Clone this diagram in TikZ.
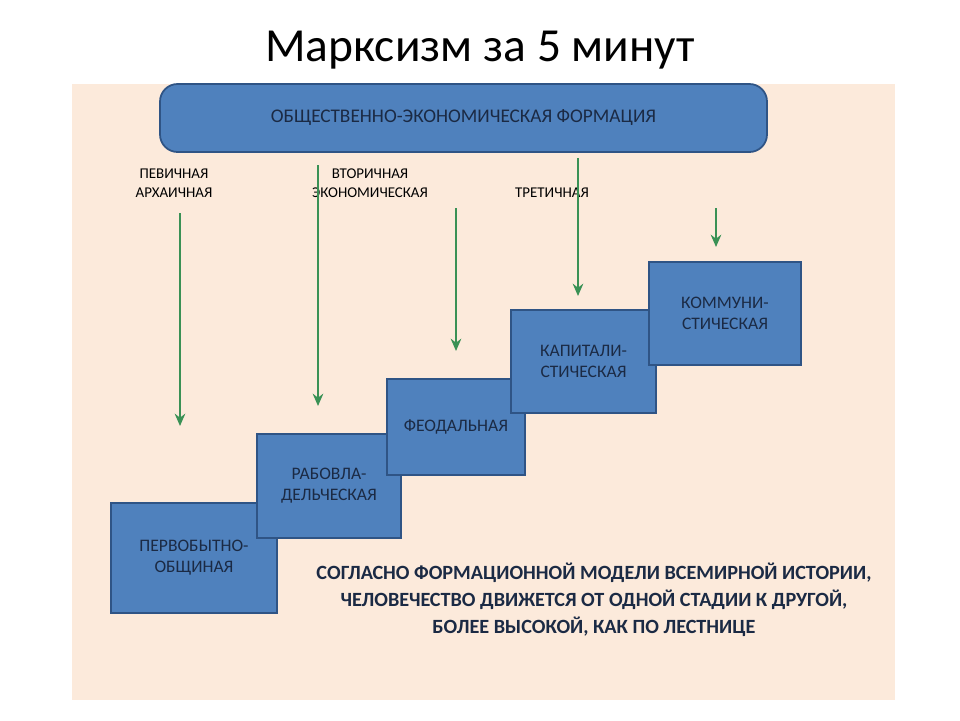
\documentclass[tikz,border=0pt]{standalone}
\usepackage{fontspec}
\setmainfont{Carlito}
\usetikzlibrary{arrows.meta}
\begin{document}
\begin{tikzpicture}[x=0.02cm,y=-0.02cm,
 box/.style={draw=boxb,fill=boxf,line width=1pt,font=\fontsize{10}{12}\selectfont,text=txt,align=center,inner sep=0pt},
 garr/.style={draw=grn,line width=1.6pt,-{Stealth[length=7pt,width=6pt]}},
 lab/.style={font=\fontsize{8.5}{10.5}\selectfont,align=center,text=black}]
\definecolor{bg}{HTML}{FCEADB}
\definecolor{boxf}{HTML}{4F81BD}
\definecolor{boxb}{HTML}{2F5485}
\definecolor{txt}{HTML}{1B2A44}
\definecolor{grn}{HTML}{3A9155}
\useasboundingbox (0,0) rectangle (960,720);
\fill[white] (0,0) rectangle (960,720);
\fill[bg] (72,84) rectangle (895,700);
\node[font=\fontsize{27}{32}\selectfont] (title) at (480,50) {Марксизм за 5 минут};
\node[box,rounded corners=10pt,minimum width=607*0.02cm,minimum height=68*0.02cm,font=\fontsize{11}{13}\selectfont] (top) at (463.5,118) {ОБЩЕСТВЕННО-ЭКОНОМИЧЕСКАЯ ФОРМАЦИЯ};
\node[box,minimum width=166*0.02cm,minimum height=110*0.02cm] (b1) at (194,558) {ПЕРВОБЫТНО-\\ОБЩИНАЯ};
\node[box,minimum width=144*0.02cm,minimum height=104*0.02cm] (b2) at (329,486) {РАБОВЛА-\\ДЕЛЬЧЕСКАЯ};
\node[box,minimum width=138*0.02cm,minimum height=96*0.02cm] (b3) at (456,427) {ФЕОДАЛЬНАЯ};
\node[box,minimum width=145*0.02cm,minimum height=103*0.02cm] (b4) at (583.5,361.5) {КАПИТАЛИ-\\СТИЧЕСКАЯ};
\node[box,minimum width=152*0.02cm,minimum height=103*0.02cm] (b5) at (725,313.5) {КОММУНИ-\\СТИЧЕСКАЯ};
\node[lab] (l1) at (174,183) {ПЕВИЧНАЯ\\АРХАИЧНАЯ};
\node[lab] (l2) at (370,183) {ВТОРИЧНАЯ\\ЭКОНОМИЧЕСКАЯ};
\node[lab] (l3) at (552,193) {ТРЕТИЧНАЯ};
\coordinate (s1) at (180,213); \coordinate (e1) at (180,426);
\coordinate (s2) at (318,165); \coordinate (e2) at (318,406);
\coordinate (s3) at (456,208); \coordinate (e3) at (456,351);
\coordinate (s4) at (578,158); \coordinate (e4) at (578,296);
\coordinate (s5) at (716,208); \coordinate (e5) at (716,247);
\foreach \i in {1,...,5} \draw[garr] (s\i) -- (e\i);
\node[font=\bfseries\fontsize{11.5}{15.5}\selectfont,align=center,text=txt] (note) at (594,600) {СОГЛАСНО ФОРМАЦИОННОЙ МОДЕЛИ ВСЕМИРНОЙ ИСТОРИИ,\\ЧЕЛОВЕЧЕСТВО ДВИЖЕТСЯ ОТ ОДНОЙ СТАДИИ К ДРУГОЙ,\\БОЛЕЕ ВЫСОКОЙ, КАК ПО ЛЕСТНИЦЕ};
\end{tikzpicture}
\end{document}
